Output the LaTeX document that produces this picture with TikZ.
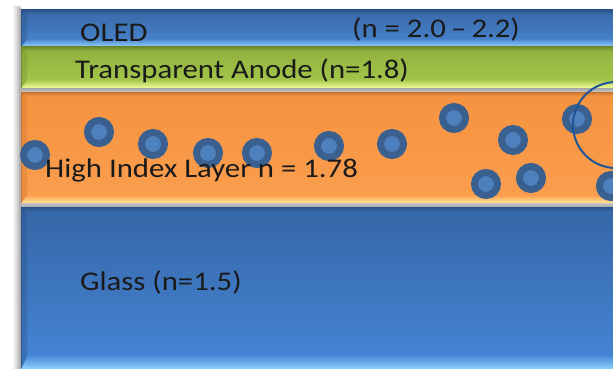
\documentclass[tikz,border=0pt]{standalone}
\usepackage{fontspec}
\setmainfont{Carlito}
\definecolor{oledDark}{HTML}{2A5286}
\definecolor{oledTop}{HTML}{3868A8}
\definecolor{oledBot}{HTML}{4A86CF}
\definecolor{oledHi}{HTML}{95D0FB}
\definecolor{anoDark}{HTML}{6F8D2C}
\definecolor{anoTop}{HTML}{8FB03C}
\definecolor{anoBot}{HTML}{A8C94E}
\definecolor{anoHi}{HTML}{EEFC9A}
\definecolor{hilDark}{HTML}{C87430}
\definecolor{hilTop}{HTML}{F5933F}
\definecolor{hilBot}{HTML}{FA9E4E}
\definecolor{hilHi}{HTML}{FFE596}
\definecolor{glsDark}{HTML}{2B5288}
\definecolor{glsTop}{HTML}{3566A6}
\definecolor{glsBot}{HTML}{4686D6}
\definecolor{glsHi}{HTML}{8ED2FF}
\definecolor{ringBlue}{HTML}{3A6090}
\definecolor{coreBlue}{HTML}{4F80BE}
\definecolor{loopBlue}{HTML}{1F5596}
\definecolor{labelInk}{HTML}{1A1A1A}

% one bevelled slab: top y, bottom y, edge, body top, body bottom, highlight
\newcommand{\bevelslab}[6]{%
  \shade[top color=#4, bottom color=#5] (21,#1) rectangle (613,#2);
  \shade[top color=#3, bottom color=#4] (21,#1) rectangle (613,#1+4);
  \shade[top color=#5, bottom color=#6]
    (28,#2-8) -- (613,#2-8) -- (613,#2) -- (21,#2) -- cycle;
  \fill[#3, opacity=.35] (21,#1) -- (27,#1+5) -- (27,#2-8) -- (21,#2) -- cycle;
  \draw[#3, line width=.8pt] (21.4,#1) -- (21.4,#2);
}

\begin{document}
\begin{tikzpicture}[x=1pt, y=-1pt,
  dot/.style={circle, draw=ringBlue, line width=7pt, fill=coreBlue,
              minimum size=23pt, inner sep=0pt},
  label/.style={font=\fontsize{27}{27}\selectfont, text=labelInk,
                inner sep=0pt, anchor=base west, xscale=1.14}]
  \useasboundingbox (0,0) rectangle (613,369);
  \fill[white] (0,0) rectangle (613,369);

  % soft drop shadow on the left
  \foreach \d/\o in {8/.05, 6/.07, 4/.09, 2/.12}
    \fill[black, opacity=\o] (21-\d,9-\d/2) rectangle (21,369);

  % stack of layers
  \bevelslab{9.5}{47}{oledDark}{oledTop}{oledBot}{oledHi}
  \bevelslab{47}{88}{anoDark}{anoTop}{anoBot}{anoHi}
  \shade[top color=gray!70, bottom color=gray!45] (21,88) rectangle (613,92);
  \bevelslab{92}{203}{hilDark}{hilTop}{hilBot}{hilHi}
  \shade[top color=gray!45, bottom color=gray!70] (21,203) rectangle (613,207);
  \bevelslab{207}{369}{glsDark}{glsTop}{glsBot}{glsHi}
  \shade[top color=glsBot, bottom color=glsHi]
    (28,355) -- (613,355) -- (613,369) -- (21,369) -- cycle;

  % labels
  \node[label] (oled)  at (80,42)  {OLED};
  \node[label] (noled) at (352,38) {(n = 2.0\,–\,2.2)};
  \node[label] (anode) at (75,78)  {Transparent Anode (n=1.8)};

  % particles in the high-index layer
  \foreach \x/\y [count=\i] in {35/155, 99/132, 153/144, 208/153, 257/153,
      329/146, 392/144, 454/118, 513/140, 486/184, 531/178, 577/119, 611/186}
    \node[dot] (p\i) at (\x,\y) {};

  \node[label] (hil) at (45,177) {High Index Layer n = 1.78};
  \node[label] (glass) at (80,290) {Glass (n=1.5)};

  % outline marking one particle
  \node[circle, draw=loopBlue, line width=2pt, minimum size=86pt,
        inner sep=0pt] (zoomring) at (616,125) {};
\end{tikzpicture}
\end{document}
